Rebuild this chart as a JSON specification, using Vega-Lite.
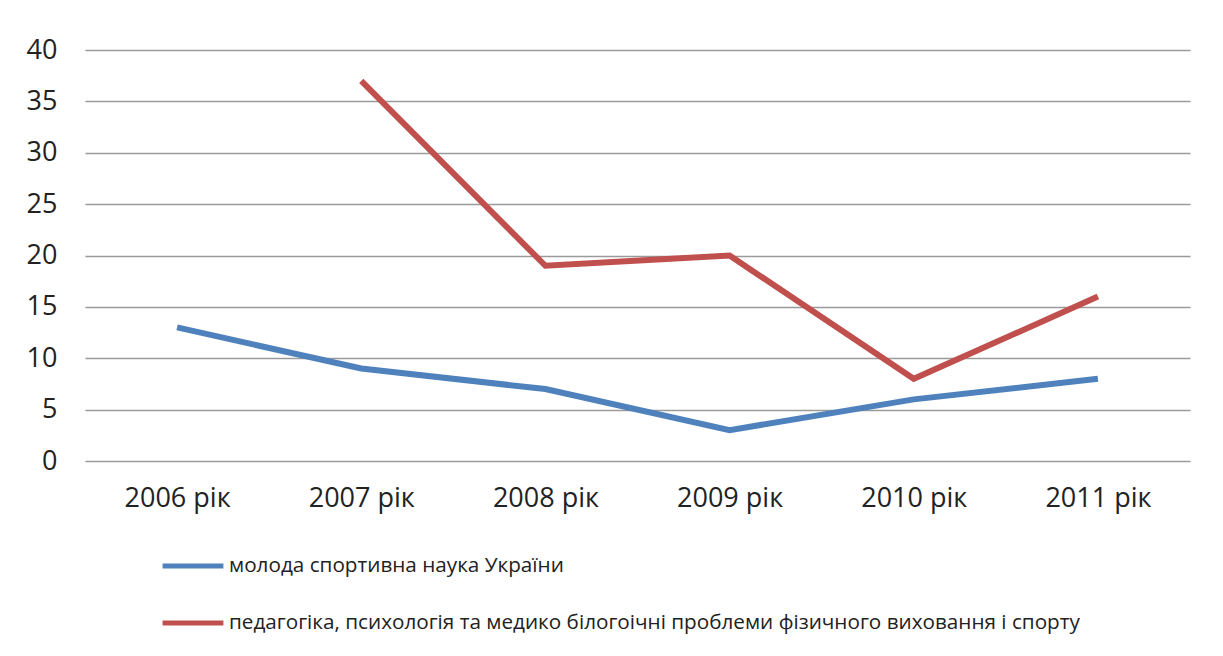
{
  "$schema": "https://vega.github.io/schema/vega-lite/v6.json",
  "autosize": {"type": "none"},
  "width": 1105,
  "height": 411,
  "padding": {"left": 85, "top": 50, "right": 33, "bottom": 195},
  "background": "white",
  "config": {
    "view": {"stroke": null},
    "font": "Open Sans"
  },
  "data": {
    "values": [
      {"year": "2006 рік", "series": "молода спортивна наука України", "value": 13},
      {"year": "2007 рік", "series": "молода спортивна наука України", "value": 9},
      {"year": "2008 рік", "series": "молода спортивна наука України", "value": 7},
      {"year": "2009 рік", "series": "молода спортивна наука України", "value": 3},
      {"year": "2010 рік", "series": "молода спортивна наука України", "value": 6},
      {"year": "2011 рік", "series": "молода спортивна наука України", "value": 8},
      {"year": "2007 рік", "series": "педагогіка, психологія та медико білогоічні проблеми фізичного виховання і спорту", "value": 37},
      {"year": "2008 рік", "series": "педагогіка, психологія та медико білогоічні проблеми фізичного виховання і спорту", "value": 19},
      {"year": "2009 рік", "series": "педагогіка, психологія та медико білогоічні проблеми фізичного виховання і спорту", "value": 20},
      {"year": "2010 рік", "series": "педагогіка, психологія та медико білогоічні проблеми фізичного виховання і спорту", "value": 8},
      {"year": "2011 рік", "series": "педагогіка, психологія та медико білогоічні проблеми фізичного виховання і спорту", "value": 16}
    ]
  },
  "mark": {"type": "line", "strokeWidth": 6, "strokeCap": "butt", "strokeJoin": "miter"},
  "encoding": {
    "x": {
      "field": "year", "type": "ordinal",
      "scale": {"type": "point", "padding": 0.5},
      "axis": {
        "title": null, "domain": false, "ticks": false, "grid": false,
        "labelAngle": 0, "labelFontSize": 27, "labelColor": "#222", "labelPadding": 24
      }
    },
    "y": {
      "field": "value", "type": "quantitative",
      "scale": {"domain": [0, 40], "nice": false},
      "axis": {
        "title": null, "domain": false, "ticks": false, "values": [0, 5, 10, 15, 20, 25, 30, 35, 40],
        "grid": true, "gridColor": "#9a9a9a", "gridWidth": 1.5,
        "labelFontSize": 27, "labelColor": "#222", "labelPadding": 28
      }
    },
    "color": {
      "field": "series", "type": "nominal",
      "scale": {
        "domain": ["молода спортивна наука України", "педагогіка, психологія та медико білогоічні проблеми фізичного виховання і спорту"],
        "range": ["#4f81bd", "#c0504d"]
      },
      "legend": {
        "orient": "none", "legendX": 75, "legendY": 483, "title": null,
        "symbolType": "stroke", "symbolSize": 3700, "symbolStrokeWidth": 5,
        "labelFontSize": 20.7, "labelColor": "#222", "labelOffset": 3, "rowPadding": 14,
        "labelLimit": 1100
      }
    }
  }
}
